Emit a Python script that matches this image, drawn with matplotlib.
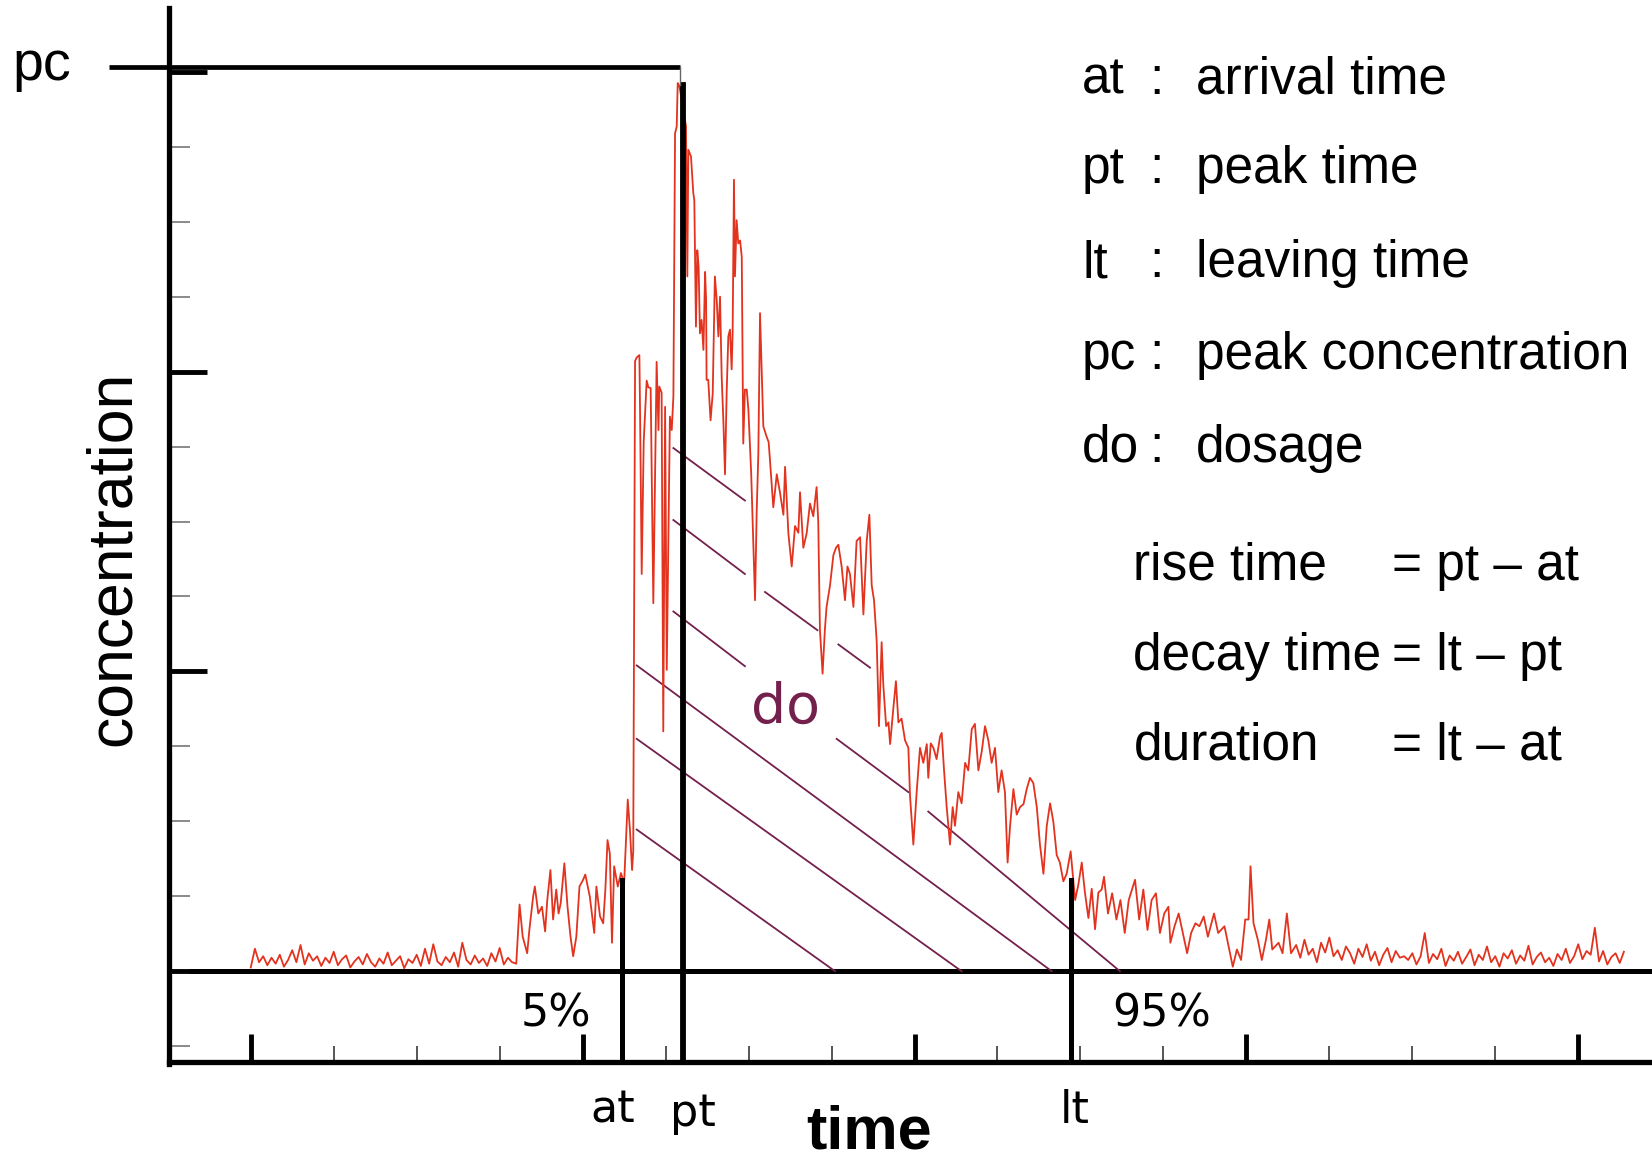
import numpy as np
import matplotlib
matplotlib.use("Agg")
import matplotlib.pyplot as plt

plt.rcParams['font.family'] = ['Liberation Sans', 'DejaVu Sans']

#%% data (time units: 20 per major tick, conc: 4 per major tick)
# background noise before the plume arrives, every 0.25 time units from t=0
pre_step = 0.25
pre_conc = [0.05, 0.30, 0.12, 0.20, 0.08, 0.18, 0.10, 0.22, 0.06, 0.15,
            0.28, 0.12, 0.35, 0.09, 0.24, 0.14, 0.20, 0.07, 0.18, 0.11,
            0.26, 0.08, 0.16, 0.21, 0.05, 0.13, 0.19, 0.09, 0.23, 0.12,
            0.06, 0.17, 0.10, 0.25, 0.08, 0.14, 0.20, 0.04, 0.16, 0.11,
            0.22, 0.07, 0.30, 0.10, 0.36, 0.13, 0.08, 0.19, 0.12, 0.25,
            0.06, 0.38, 0.15, 0.09, 0.21, 0.11, 0.17, 0.07, 0.24, 0.13,
            0.31, 0.09, 0.18, 0.12]

# the plume itself
main_time = [16.00, 16.20, 16.39, 16.66, 16.79, 17.02, 17.12, 17.33, 17.55, 17.74,
             17.87, 18.06, 18.22, 18.41, 18.55, 18.68, 18.90, 19.09, 19.27, 19.43,
             19.62, 19.81, 20.03, 20.16, 20.43, 20.70, 20.83, 21.05, 21.24, 21.37,
             21.50, 21.64, 21.77, 21.90, 22.12, 22.31, 22.50, 22.72, 22.85, 22.98,
             23.05, 23.16, 23.26, 23.42, 23.46, 23.56, 23.68, 23.86, 23.96, 24.10,
             24.26, 24.46, 24.57, 24.62, 24.76, 24.86, 24.97, 25.07, 25.26, 25.37,
             25.47, 25.57, 25.67, 25.73, 25.83, 26.03, 26.23, 26.31, 26.37, 26.53,
             26.67, 26.73, 26.83, 26.91, 26.99, 27.07, 27.17, 27.28, 27.38, 27.44,
             27.47, 27.57, 27.71, 27.84, 27.97, 28.08, 28.18, 28.28, 28.38, 28.48,
             28.58, 28.68, 28.78, 28.88, 28.98, 29.04, 29.12, 29.18, 29.28, 29.38,
             29.49, 29.59, 29.68, 29.78, 29.89, 29.99, 30.16, 30.39, 30.49, 30.59,
             30.69, 30.89, 31.09, 31.21, 31.29, 31.49, 31.70, 31.89, 32.10, 32.20,
             32.40, 32.60, 32.80, 33.00, 33.10, 33.30, 33.50, 33.70, 33.90, 34.10,
             34.20, 34.30, 34.46, 34.60, 34.70, 34.91, 35.11, 35.27, 35.41, 35.61,
             35.81, 35.96, 36.11, 36.32, 36.51, 36.72, 36.92, 37.12, 37.28, 37.42,
             37.56, 37.72, 37.86, 38.02, 38.12, 38.29, 38.43, 38.53, 38.73, 38.88,
             39.03, 39.22, 39.43, 39.63, 39.73, 39.93, 40.13, 40.33, 40.53, 40.74,
             40.83, 40.98, 41.14, 41.33, 41.54, 41.64, 41.78, 41.94, 42.14, 42.30,
             42.44, 42.64, 42.84, 43.05, 43.24, 43.45, 43.64, 43.85, 44.05, 44.25,
             44.45, 44.65, 44.85, 45.05, 45.25, 45.45, 45.61, 45.76, 45.96, 46.16,
             46.36, 46.57, 46.76, 46.96, 47.16, 47.37, 47.56, 47.77, 47.97, 48.17,
             48.37, 48.57, 48.76, 48.97, 49.17, 49.41, 49.68, 49.87, 50.08, 50.27,
             50.48, 50.68, 50.88, 51.08, 51.28, 51.42, 51.66, 51.91, 52.17, 52.41,
             52.67, 52.91, 53.29, 53.54, 53.79, 54.04, 54.29, 54.55, 54.79, 55.05,
             55.30, 55.42, 55.67, 55.92, 56.17, 56.43, 56.67, 56.93, 57.17, 57.43,
             57.68, 58.05, 58.30, 58.68, 58.93, 59.18, 59.43, 59.68, 59.93, 60.13,
             60.25, 60.43, 60.69, 60.93, 61.18, 61.38, 61.56, 61.94, 62.18, 62.44,
             62.69]
main_conc = [0.10, 0.89, 0.46, 0.24, 0.55, 1.00, 1.13, 0.77, 0.86, 0.53,
             0.95, 1.35, 0.69, 1.09, 0.77, 0.91, 1.44, 0.86, 0.46, 0.20,
             0.46, 1.13, 1.22, 1.29, 1.00, 0.51, 1.13, 0.73, 0.64, 1.09,
             1.75, 1.57, 0.38, 1.40, 1.13, 1.31, 1.17, 2.29, 1.89, 1.35,
             1.60, 8.14, 8.19, 8.22, 7.49, 5.30, 7.06, 7.88, 7.79, 7.78,
             4.91, 8.13, 7.22, 7.80, 7.72, 3.20, 7.53, 4.02, 7.40, 7.22,
             7.67, 11.18, 11.27, 11.85, 11.81, 11.55, 11.27, 9.27, 10.96, 10.87,
             10.38, 10.29, 8.60, 9.62, 9.40, 8.51, 8.69, 8.29, 9.33, 8.96,
             7.89, 7.89, 7.35, 7.71, 9.27, 8.96, 8.47, 9.00, 7.93, 7.35,
             6.63, 7.72, 8.47, 8.56, 8.03, 8.52, 10.56, 9.27, 10.02, 9.71,
             9.75, 9.53, 7.04, 7.76, 7.76, 7.49, 6.63, 4.95, 6.14, 6.91,
             8.78, 7.27, 7.13, 7.06, 6.82, 6.19, 6.63, 6.39, 6.09, 6.73,
             5.84, 5.40, 5.94, 5.85, 6.39, 5.65, 5.84, 6.24, 6.07, 6.46,
             5.99, 4.56, 3.97, 4.56, 4.86, 5.15, 5.55, 5.65, 5.69, 5.40,
             4.95, 5.40, 5.30, 4.86, 5.74, 5.79, 4.76, 5.74, 6.09, 5.15,
             4.95, 4.41, 3.27, 4.39, 3.82, 3.27, 3.32, 3.03, 3.52, 3.87,
             3.32, 3.37, 3.08, 2.98, 2.34, 1.69, 2.39, 2.98, 2.78, 3.03,
             2.58, 3.04, 2.98, 2.83, 3.13, 3.18, 2.68, 2.19, 1.69, 2.19,
             1.94, 2.39, 2.24, 2.78, 2.68, 3.23, 3.30, 2.68, 2.93, 3.27,
             3.08, 2.78, 2.98, 2.39, 2.68, 2.39, 1.45, 1.94, 2.43, 2.09,
             2.19, 2.23, 2.43, 2.58, 2.51, 2.19, 1.69, 1.30, 1.94, 2.24,
             1.99, 1.55, 1.45, 1.20, 1.30, 1.60, 0.95, 1.15, 1.45, 1.05,
             0.71, 1.10, 0.56, 1.05, 1.09, 1.26, 0.77, 1.04, 0.69, 0.95,
             0.51, 0.95, 1.22, 0.69, 1.09, 0.55, 0.95, 1.04, 0.51, 0.77,
             0.86, 0.38, 0.60, 0.77, 0.51, 0.24, 0.51, 0.64, 0.60, 0.73,
             0.46, 0.77, 0.51, 0.60, 0.33, 0.06, 0.29, 0.15, 0.69, 0.69,
             1.40, 0.64, 0.42, 0.15, 0.42, 0.69, 0.29, 0.38, 0.24, 0.77,
             0.24]

# background noise after the plume, every 0.25 time units from t=63
tail_start = 63.0
tail_step = 0.25
tail_conc = [0.35, 0.18, 0.42, 0.22, 0.30, 0.12, 0.38, 0.25, 0.45, 0.20,
             0.28, 0.15, 0.33, 0.24, 0.10, 0.30, 0.19, 0.36, 0.14, 0.26,
             0.08, 0.22, 0.31, 0.12, 0.27, 0.18, 0.20, 0.15, 0.24, 0.09,
             0.20, 0.51, 0.11, 0.23, 0.16, 0.30, 0.07, 0.21, 0.14, 0.26,
             0.10, 0.19, 0.29, 0.08, 0.22, 0.15, 0.33, 0.12, 0.20, 0.06,
             0.24, 0.17, 0.28, 0.10, 0.21, 0.14, 0.34, 0.09, 0.19, 0.25,
             0.12, 0.18, 0.07, 0.23, 0.15, 0.30, 0.11, 0.20, 0.36, 0.16,
             0.27, 0.22, 0.58, 0.13, 0.27, 0.09, 0.19, 0.24, 0.11, 0.26]

# characteristic times / values
at_time = 22.35
pt_time = 26.03
lt_time = 49.46
pc_value = 12.07
marker_top = {'at': 1.22, 'pt': 11.82, 'lt': 1.22}

# hatching of the dosage area (start t, start c, end t, end c)
hatch_t0 = [23.26, 23.26, 23.26, 25.47, 35.31, 40.83, 25.47, 30.99, 35.41, 25.47]
hatch_c0 = [1.89, 3.10, 4.08, 4.80, 3.10, 2.13, 6.02, 5.06, 4.36, 6.98]
hatch_t1 = [35.21, 42.84, 48.27, 29.78, 39.63, 52.38, 29.78, 34.15, 37.32, 29.78]
hatch_c1 = [0.0, 0.0, 0.0, 4.07, 2.39, 0.0, 5.30, 4.55, 4.05, 6.28]

legend_abbr = ['at', 'pt', 'lt', 'pc', 'do']
legend_desc = ['arrival time', 'peak time', 'leaving time', 'peak concentration', 'dosage']
formula_name = ['rise time', 'decay time', 'duration']
formula_expr = ['= pt \u2013 at', '= lt \u2013 pt', '= lt \u2013 at']

#%% figure
red = '#e2331f'
purple = '#74204c'

fig = plt.figure(figsize=(16.52, 11.64), dpi=100)
ax = fig.add_axes([0, 0, 1, 1])
ax.set_xlim(-15.111, 84.444)
ax.set_ylim(-2.572, 12.958)

for s in ['top', 'right']:
    ax.spines[s].set_visible(False)
ax.spines['left'].set_position(('data', -4.95))
ax.spines['left'].set_bounds(-1.24, 12.85)
ax.spines['bottom'].set_position(('data', -1.21))
ax.spines['bottom'].set_bounds(-4.95, 85)
for s in ['left', 'bottom']:
    ax.spines[s].set_linewidth(3.8)

ax.set_xticks([0, 20, 40, 60, 80])
ax.set_xticks([5, 10, 15, 25, 30, 35, 45, 50, 55, 65, 70, 75], minor=True)
ax.set_yticks([0, 4, 8, 12])
ax.set_yticks([-1, 1, 2, 3, 5, 6, 7, 9, 10, 11], minor=True)
ax.tick_params(which='both', direction='in', labelbottom=False, labelleft=False)
ax.tick_params(axis='x', which='major', length=20, width=3.5, color='black')
ax.tick_params(axis='y', which='major', length=27, width=3.5, color='black')
ax.tick_params(axis='x', which='minor', length=11.5, width=1.4, color='#555555')
ax.tick_params(axis='y', which='minor', length=15, width=1.4, color='#8a8a8a')

# zero line
ax.plot([-3.7, 85], [0, 0], color='black', lw=3.6, solid_capstyle='butt', zorder=2)

# hatching
for i in range(len(hatch_t0)):
    ax.plot([hatch_t0[i], hatch_t1[i]], [hatch_c0[i], hatch_c1[i]],
            color=purple, lw=1.3, zorder=3)

# concentration signal
t_pre = np.arange(len(pre_conc)) * pre_step
t_tail = tail_start + np.arange(len(tail_conc)) * tail_step
time = np.concatenate([t_pre, main_time, t_tail])
conc = np.concatenate([pre_conc, main_conc, tail_conc])
ax.plot(time, conc, color=red, lw=1.3, zorder=4)

# at / pt / lt markers
ax.plot([at_time, at_time], [marker_top['at'], -1.21], color='black', lw=3.6, zorder=5)
ax.plot([pt_time, pt_time], [marker_top['pt'], -1.21], color='black', lw=4.2, zorder=5)
ax.plot([lt_time, lt_time], [marker_top['lt'], -1.21], color='black', lw=3.6, zorder=5)

# peak concentration line
ax.plot([-8.57, 25.87], [pc_value, pc_value], color='black', lw=3.4,
        solid_capstyle='butt', zorder=5)
ax.plot([25.87, 25.87], [pc_value, 11.83], color='#666666', lw=1.0, zorder=5)

#%% texts
ax.text(-14.35, 11.89, 'pc', fontsize=40, ha='left', va='baseline')
ax.text(-8.25, 5.51, 'concentration', fontsize=45, rotation=90,
        ha='center', va='center')
ax.text(37.27, -2.37, 'time', fontsize=44, fontweight='bold',
        ha='center', va='baseline')

lab = dict(fontsize=32, family='DejaVu Sans', ha='left', va='baseline')
ax.text(20.44, -2.02, 'at', **lab)
ax.text(25.27, -2.06, 'pt', **lab)
ax.text(48.76, -2.02, 'lt', **lab)
ax.text(16.26, -0.74, '5%', **lab)
ax.text(51.91, -0.74, '95%', **lab)
ax.text(32.25, 3.32, 'do', fontsize=40, family='DejaVu Sans', color=purple,
        ha='center', va='baseline', zorder=6)

legend_c = [11.71, 10.51, 9.26, 8.03, 6.80]
for i in range(len(legend_abbr)):
    ax.text(50.10, legend_c[i], legend_abbr[i], fontsize=37, va='baseline')
    ax.text(54.15, legend_c[i], ':', fontsize=37, va='baseline')
    ax.text(56.95, legend_c[i], legend_desc[i], fontsize=37, va='baseline')

formula_c = [5.22, 4.02, 2.82]
for i in range(len(formula_name)):
    ax.text(53.19, formula_c[i], formula_name[i], fontsize=37, va='baseline')
    ax.text(68.76, formula_c[i], formula_expr[i], fontsize=37, va='baseline')

fig.savefig('out.png', dpi=100)
